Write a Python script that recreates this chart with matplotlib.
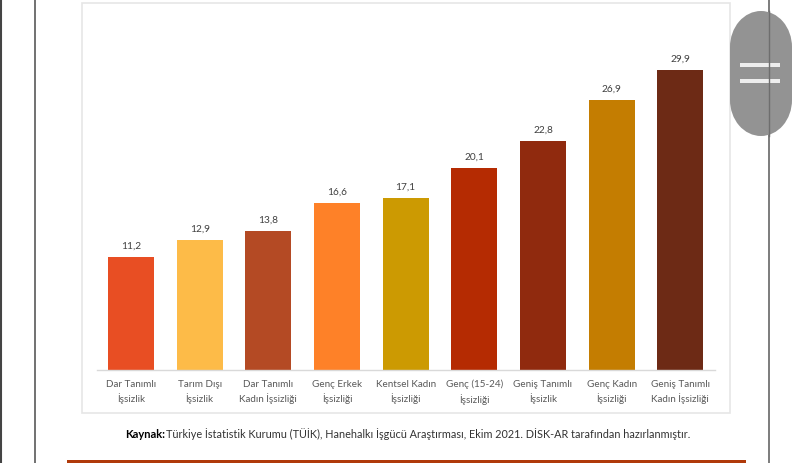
import matplotlib
matplotlib.use('Agg')
import matplotlib.pyplot as plt
from matplotlib.patches import Rectangle, Ellipse

# Data
labels = ["Dar Tanımlı\nİşsizlik", "Tarım Dışı\nİşsizlik", "Dar Tanımlı\nKadın İşsizliği",
          "Genç Erkek\nİşsizliği", "Kentsel Kadın\nİşsizliği", "Genç (15-24)\nİşsizliği",
          "Geniş Tanımlı\nİşsizlik", "Genç Kadın\nİşsizliği", "Geniş Tanımlı\nKadın İşsizliği"]
values = [11.2, 12.9, 13.8, 16.6, 17.1, 20.1, 22.8, 26.9, 29.9]
value_labels = ["11,2", "12,9", "13,8", "16,6", "17,1", "20,1", "22,8", "26,9", "29,9"]
colors = ["#E84E23", "#FDBB48", "#B44A24", "#FE8128", "#CC9A02", "#B52B02",
          "#902A0E", "#C47D01", "#6D2A15"]

W, H = 800, 463
plt.rcParams['font.family'] = ['Lato', 'DejaVu Sans']

fig = plt.figure(figsize=(W / 100, H / 100), dpi=100)

# page furniture in pixel coordinates
bg = fig.add_axes([0, 0, 1, 1])
bg.set_xlim(0, W)
bg.set_ylim(H, 0)
bg.axis('off')
bg.add_patch(Rectangle((82, 3), 648, 410, fc='white', ec='#E6E6E6', lw=1.2))
bg.add_patch(Rectangle((67, 460), 679, 3, fc='#B03A0A', ec='none'))
bg.plot([0.5, 0.5], [0, H], color='#444444', lw=1.5)
bg.plot([34.5, 34.5], [0, H], color='#666666', lw=1.3)
bg.plot([769, 769], [0, H], color='#666666', lw=1.2)

bg.text(125, 434, "Kaynak:", fontsize=8, fontweight='bold', color='black', va='center')
bg.text(166, 434, "Türkiye İstatistik Kurumu (TÜİK), Hanehalkı İşgücü Araştırması, Ekim 2021. DİSK-AR tarafından hazırlanmıştır.",
        fontsize=7.85, color='#333333', va='center')

# bar chart
left, right, bottom, top = 96.7, 714.6, 369.5, 20
ax = fig.add_axes([left / W, 1 - bottom / H, (right - left) / W, (bottom - top) / H])
ax.patch.set_alpha(0)
ax.bar(range(len(values)), values, width=0.67, color=colors)
ax.set_xlim(-0.5, len(values) - 0.5)
ax.set_ylim(0, (bottom - top) / 10.02)
ax.set_yticks([])
ax.set_xticks(range(len(values)))
ax.set_xticklabels(labels, fontsize=7.1, color='#595959', linespacing=1.5)
ax.tick_params(axis='x', length=0, pad=7.5)
for s in ['top', 'left', 'right']:
    ax.spines[s].set_visible(False)
ax.spines['bottom'].set_color('#D9D9D9')
ax.spines['bottom'].set_linewidth(1)
for i, v in enumerate(values):
    ax.text(i, v + 0.65, value_labels[i], ha='center', va='bottom', fontsize=7.3, color='#404040')

# scroll handle on top
top_ax = fig.add_axes([0, 0, 1, 1])
top_ax.set_xlim(0, W)
top_ax.set_ylim(H, 0)
top_ax.axis('off')
top_ax.patch.set_alpha(0)
pill = '#939393'
top_ax.add_patch(Ellipse((761, 47), 62, 72, fc=pill, ec='none'))
top_ax.add_patch(Ellipse((761, 100), 62, 72, fc=pill, ec='none'))
top_ax.add_patch(Rectangle((730, 47), 62, 53, fc=pill, ec='none'))
top_ax.plot([769, 769], [11, 136], color='#6E6E6E', lw=1)
top_ax.add_patch(Rectangle((740, 63), 40, 4, fc='#EDEDED', ec='none'))
top_ax.add_patch(Rectangle((740, 79), 40, 4, fc='#EDEDED', ec='none'))

plt.savefig('out.png', dpi=100)
